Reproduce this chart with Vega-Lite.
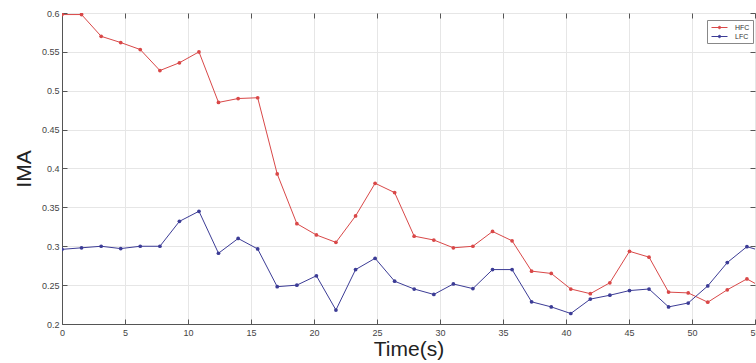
{
  "$schema": "https://vega.github.io/schema/vega-lite/v6.json",
  "width": 693,
  "height": 311,
  "autosize": {"type": "none"},
  "padding": {"left": 62, "top": 13, "right": 1, "bottom": 39},
  "background": "white",
  "config": {
    "view": {"stroke": "#555555", "strokeWidth": 1},
    "font": "Liberation Sans"
  },
  "data": {
    "values": [
      {"t": 0, "series": "HFC", "ima": 0.598},
      {"t": 1.55, "series": "HFC", "ima": 0.598},
      {"t": 3.11, "series": "HFC", "ima": 0.570},
      {"t": 4.66, "series": "HFC", "ima": 0.562},
      {"t": 6.21, "series": "HFC", "ima": 0.553},
      {"t": 7.77, "series": "HFC", "ima": 0.526},
      {"t": 9.32, "series": "HFC", "ima": 0.536},
      {"t": 10.87, "series": "HFC", "ima": 0.550},
      {"t": 12.42, "series": "HFC", "ima": 0.485},
      {"t": 13.98, "series": "HFC", "ima": 0.490},
      {"t": 15.53, "series": "HFC", "ima": 0.491},
      {"t": 17.08, "series": "HFC", "ima": 0.393},
      {"t": 18.64, "series": "HFC", "ima": 0.329},
      {"t": 20.19, "series": "HFC", "ima": 0.3145},
      {"t": 21.74, "series": "HFC", "ima": 0.305},
      {"t": 23.30, "series": "HFC", "ima": 0.339},
      {"t": 24.85, "series": "HFC", "ima": 0.381},
      {"t": 26.40, "series": "HFC", "ima": 0.369},
      {"t": 27.95, "series": "HFC", "ima": 0.313},
      {"t": 29.51, "series": "HFC", "ima": 0.308},
      {"t": 31.06, "series": "HFC", "ima": 0.298},
      {"t": 32.61, "series": "HFC", "ima": 0.300},
      {"t": 34.17, "series": "HFC", "ima": 0.319},
      {"t": 35.72, "series": "HFC", "ima": 0.307},
      {"t": 37.27, "series": "HFC", "ima": 0.268},
      {"t": 38.83, "series": "HFC", "ima": 0.265},
      {"t": 40.38, "series": "HFC", "ima": 0.245},
      {"t": 41.93, "series": "HFC", "ima": 0.239},
      {"t": 43.48, "series": "HFC", "ima": 0.253},
      {"t": 45.04, "series": "HFC", "ima": 0.2935},
      {"t": 46.59, "series": "HFC", "ima": 0.286},
      {"t": 48.14, "series": "HFC", "ima": 0.241},
      {"t": 49.70, "series": "HFC", "ima": 0.240},
      {"t": 51.25, "series": "HFC", "ima": 0.228},
      {"t": 52.80, "series": "HFC", "ima": 0.244},
      {"t": 54.36, "series": "HFC", "ima": 0.258},
      {"t": 55.91, "series": "HFC", "ima": 0.244},
      {"t": 0, "series": "LFC", "ima": 0.296},
      {"t": 1.55, "series": "LFC", "ima": 0.298},
      {"t": 3.11, "series": "LFC", "ima": 0.300},
      {"t": 4.66, "series": "LFC", "ima": 0.297},
      {"t": 6.21, "series": "LFC", "ima": 0.300},
      {"t": 7.77, "series": "LFC", "ima": 0.300},
      {"t": 9.32, "series": "LFC", "ima": 0.332},
      {"t": 10.87, "series": "LFC", "ima": 0.345},
      {"t": 12.42, "series": "LFC", "ima": 0.291},
      {"t": 13.98, "series": "LFC", "ima": 0.310},
      {"t": 15.53, "series": "LFC", "ima": 0.2965},
      {"t": 17.08, "series": "LFC", "ima": 0.248},
      {"t": 18.64, "series": "LFC", "ima": 0.250},
      {"t": 20.19, "series": "LFC", "ima": 0.262},
      {"t": 21.74, "series": "LFC", "ima": 0.218},
      {"t": 23.30, "series": "LFC", "ima": 0.270},
      {"t": 24.85, "series": "LFC", "ima": 0.2845},
      {"t": 26.40, "series": "LFC", "ima": 0.255},
      {"t": 27.95, "series": "LFC", "ima": 0.245},
      {"t": 29.51, "series": "LFC", "ima": 0.238},
      {"t": 31.06, "series": "LFC", "ima": 0.2515},
      {"t": 32.61, "series": "LFC", "ima": 0.2455},
      {"t": 34.17, "series": "LFC", "ima": 0.270},
      {"t": 35.72, "series": "LFC", "ima": 0.270},
      {"t": 37.27, "series": "LFC", "ima": 0.2285},
      {"t": 38.83, "series": "LFC", "ima": 0.222},
      {"t": 40.38, "series": "LFC", "ima": 0.2135},
      {"t": 41.93, "series": "LFC", "ima": 0.232},
      {"t": 43.48, "series": "LFC", "ima": 0.237},
      {"t": 45.04, "series": "LFC", "ima": 0.243},
      {"t": 46.59, "series": "LFC", "ima": 0.245},
      {"t": 48.14, "series": "LFC", "ima": 0.222},
      {"t": 49.70, "series": "LFC", "ima": 0.227},
      {"t": 51.25, "series": "LFC", "ima": 0.249},
      {"t": 52.80, "series": "LFC", "ima": 0.279},
      {"t": 54.36, "series": "LFC", "ima": 0.2995},
      {"t": 55.91, "series": "LFC", "ima": 0.292}
    ]
  },
  "resolve": {"axis": {"x": "independent", "y": "independent"}},
  "layer": [
    {
      "mark": {
        "type": "line",
        "clip": true,
        "strokeWidth": 1,
        "point": {"filled": true, "size": 14, "shape": "circle"}
      },
      "encoding": {
        "x": {
          "field": "t",
          "type": "quantitative",
          "scale": {"domain": [0, 55], "nice": false, "zero": false},
          "axis": {
            "title": "Time(s)",
            "values": [0, 5, 10, 15, 20, 25, 30, 35, 40, 45, 50, 55],
            "labelFlush": false,
            "labelOverlap": false,
            "labelFontSize": 9,
            "labelColor": "#444444",
            "labelPadding": 9,
            "tickSize": -5,
            "tickColor": "#555555",
            "domainColor": "#555555",
            "gridColor": "#e6e6e6",
            "titleFontSize": 21,
            "titleFontWeight": "normal",
            "titleColor": "#222222",
            "titlePadding": 1
          }
        },
        "y": {
          "field": "ima",
          "type": "quantitative",
          "scale": {"domain": [0.2, 0.6], "nice": false, "zero": false},
          "axis": {
            "title": "IMA",
            "values": [0.2, 0.25, 0.3, 0.35, 0.4, 0.45, 0.5, 0.55, 0.6],
            "format": ".2~f",
            "labelFlush": false,
            "labelFontSize": 9,
            "labelColor": "#444444",
            "labelPadding": 8,
            "tickSize": -5,
            "tickColor": "#555555",
            "domainColor": "#555555",
            "gridColor": "#e6e6e6",
            "titleFontSize": 21,
            "titleFontWeight": "normal",
            "titleColor": "#222222",
            "titlePadding": 7
          }
        },
        "color": {
          "field": "series",
          "type": "nominal",
          "scale": {"domain": ["HFC", "LFC"], "range": ["#d94848", "#3c3c96"]},
          "legend": {
            "title": null,
            "orient": "none",
            "legendX": 645,
            "legendY": 7,
            "labelFontSize": 7,
            "labelColor": "#333333",
            "symbolType": "M-2,0H2M-0.3,0A0.3,0.3 0 1,0 0.3,0A0.3,0.3 0 1,0 -0.3,0",
            "symbolSize": 64,
            "symbolStrokeWidth": 1,
            "symbolOffset": 5,
            "labelOffset": 11,
            "rowPadding": 1,
            "padding": 3,
            "strokeColor": "#888888",
            "fillColor": "white"
          }
        }
      }
    },
    {
      "mark": {"type": "point", "opacity": 0, "clip": true},
      "encoding": {
        "x": {
          "field": "t",
          "type": "quantitative",
          "axis": {
            "orient": "top",
            "title": null,
            "labels": false,
            "grid": false,
            "domain": false,
            "values": [0, 5, 10, 15, 20, 25, 30, 35, 40, 45, 50, 55],
            "tickSize": -5,
            "tickColor": "#555555"
          }
        },
        "y": {
          "field": "ima",
          "type": "quantitative",
          "axis": {
            "orient": "right",
            "title": null,
            "labels": false,
            "grid": false,
            "domain": false,
            "values": [0.2, 0.25, 0.3, 0.35, 0.4, 0.45, 0.5, 0.55, 0.6],
            "tickSize": -5,
            "tickColor": "#555555"
          }
        }
      }
    }
  ]
}
